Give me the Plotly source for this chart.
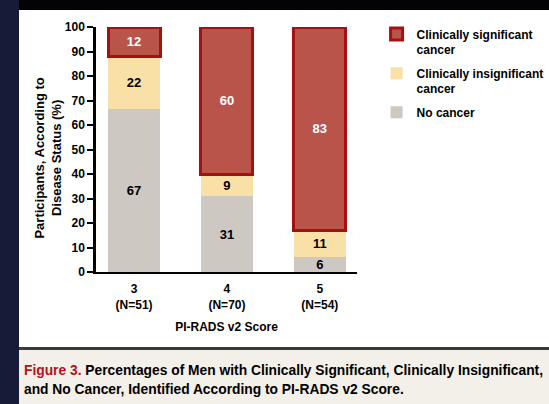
import plotly.graph_objects as go

# ---- data ----
categories = ["3", "4", "5"]
n_participants = [51, 70, 54]
no_cancer = [67, 31, 6]
insignificant = [22, 9, 11]
significant = [12, 60, 83]
series_names = ["No cancer", "Clinically insignificant<br>cancer", "Clinically significant<br>cancer"]
y_ticks = [0, 10, 20, 30, 40, 50, 60, 70, 80, 90, 100]

FONT = "Liberation Sans, Arial, sans-serif"

# normalise so each bar stacks to 100 (labels keep the reported values)
totals = [a + b + c for a, b, c in zip(no_cancer, insignificant, significant)]
def norm(vals):
    return [v / t * 100 for v, t in zip(vals, totals)]

fig = go.Figure()
series = [
    (no_cancer, series_names[0], "#cdc8c2", "#c4beb8", 0, "black", "g1", 3),
    (insignificant, series_names[1], "#f8e0a6", "#f0d488", 0, "black", "g2", 2),
    (significant, series_names[2], "#b9544b", "#a3120f", 3, "white", "g3", 1),
]
for vals, name, fill, line, lw, tcol, grp, rank in series:
    fig.add_trace(go.Bar(
        x=categories, y=norm(vals), name=name, legendgroup=grp, legendrank=rank,
        text=[str(v) for v in vals], textposition="inside",
        insidetextanchor="middle", textangle=0,
        textfont=dict(family=FONT, size=13, color=tcol, weight="bold"),
        marker=dict(color=fill, line=dict(color=line, width=lw)),
        width=0.56, cliponaxis=False,
    ))

# background shapes (paper coords)
shapes = [
    dict(type="rect", xref="paper", yref="paper", x0=-0.40, x1=-0.295, y0=-0.7, y1=1.2,
         fillcolor="#181b38", line_width=0, layer="below"),
    dict(type="rect", xref="paper", yref="paper", x0=-0.295, x1=1.8, y0=-0.3061, y1=1.0694,
         fillcolor="white", line_width=0, layer="below"),
    dict(type="rect", xref="paper", yref="paper", x0=-0.295, x1=1.8, y0=-0.3184, y1=-0.3061,
         fillcolor="#3a3a3a", line_width=0, layer="below"),
    dict(type="rect", xref="paper", yref="paper", x0=-0.295, x1=1.8, y0=-0.7, y1=-0.3184,
         fillcolor="#f3efe9", line_width=0, layer="below"),
]

annotations = [
    dict(text="Participants, According to<br>Disease Status (%)", textangle=-90,
         xref="paper", yref="paper", x=-0.182, y=0.465, xanchor="center", yanchor="middle",
         showarrow=False, font=dict(family=FONT, size=13, color="black", weight="bold")),
    dict(text="<span style='color:#b3121c'>Figure 3.</span> Percentages of Men with Clinically Significant, Clinically Insignificant,",
         xref="paper", yref="paper", x=-0.2835, y=-0.40, xanchor="left", yanchor="middle",
         showarrow=False, font=dict(family=FONT, size=13.8, color="black", weight="bold")),
    dict(text="and No Cancer, Identified According to PI-RADS v2 Score.",
         xref="paper", yref="paper", x=-0.2835, y=-0.4816, xanchor="left", yanchor="middle",
         showarrow=False, font=dict(family=FONT, size=13.8, color="black", weight="bold")),
]

fig.update_layout(
    width=549, height=404,
    margin=dict(l=96, r=192, t=27, b=132, autoexpand=False),
    paper_bgcolor="#030305", plot_bgcolor="white",
    barmode="stack",
    showlegend=True,
    legend=dict(x=1.075, y=1.03, xanchor="left", yanchor="top", traceorder="grouped",
                valign="top", bgcolor="rgba(0,0,0,0)", tracegroupgap=5,
                font=dict(family=FONT, size=12, color="black", weight="bold"),
                itemwidth=30),
    uniformtext=dict(minsize=12, mode="show"),
    shapes=shapes, annotations=annotations,
    font=dict(family=FONT, color="black"),
)
fig.update_xaxes(
    type="category", range=[-0.41, 2.4],
    tickvals=categories,
    ticktext=[f"{c}<br>(N={n})" for c, n in zip(categories, n_participants)],
    tickfont=dict(family=FONT, size=12, color="black", weight="bold"),
    ticklabelstandoff=5, automargin=False,
    showline=True, linecolor="black", linewidth=2, ticks="",
    title=dict(text="PI-RADS v2 Score", standoff=12,
               font=dict(family=FONT, size=12, color="black", weight="bold")),
    showgrid=False, zeroline=False,
)
fig.update_yaxes(
    range=[0, 100], tickvals=y_ticks, automargin=False,
    tickfont=dict(family=FONT, size=12, color="black", weight="bold"),
    showline=True, linecolor="black", linewidth=2.5,
    ticks="outside", ticklen=6, tickwidth=2, tickcolor="black",
    showgrid=False, zeroline=False,
)

fig.write_html("out.html", config={"displayModeBar": False},
               post_script="document.body.style.margin='0';document.body.style.background='#030305';")
